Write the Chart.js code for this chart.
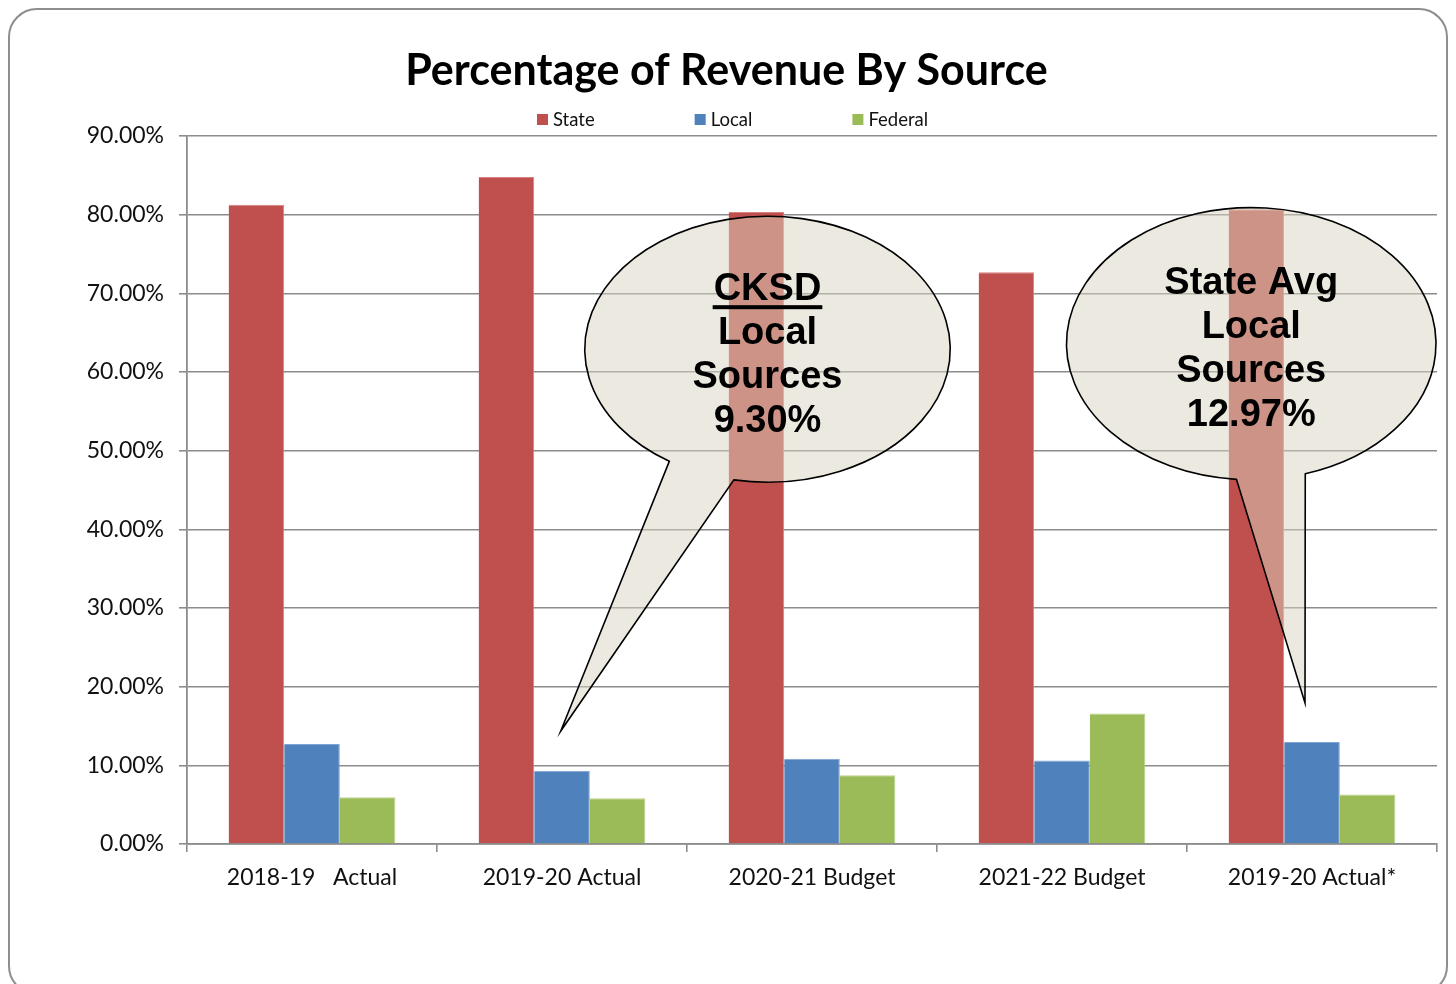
<!DOCTYPE html>
<html>
<head>
<meta charset="utf-8">
<script src="https://cdn.jsdelivr.net/npm/chart.js@4/dist/chart.umd.min.js"></script>
<style>
  html, body { margin: 0; padding: 0; background: #ffffff; }
  #wrap { width: 1456px; height: 984px; position: relative; }
</style>
</head>
<body>
<div id="wrap"><canvas id="chart" width="1456" height="984"></canvas></div>
<script>
// Revenue share by source (percent of total revenue)
const categories = ['2018-19   Actual', '2019-20 Actual', '2020-21 Budget', '2021-22 Budget', '2019-20 Actual*'];
const stateShare = [81.27, 84.8, 80.34, 72.67, 80.7];
const localShare = [12.71, 9.3, 10.85, 10.6, 12.97];
const federalShare = [5.93, 5.8, 8.73, 16.6, 6.3];
const seriesNames = ['State', 'Local', 'Federal'];
const seriesColors = ['#C0504D', '#4F81BD', '#9BBB59'];
const seriesEdges = ['#D8827F', '#7FA3D3', '#BDD38E'];

// Speech-bubble notes: centre and tail tip given in category index / percent units
const calloutLines = [
  ['CKSD', 'Local', 'Sources', '9.30%'],
  ['State Avg', 'Local', 'Sources', '12.97%']
];
const calloutUnderlineFirst = [true, false];
const calloutCenterIdx = [1.822, 3.757];
const calloutCenterVal = [62.9, 63.6];
const calloutRadiusIdx = [0.731, 0.739];
const calloutRadiusVal = [16.9, 17.3];
const calloutTipIdx = [0.995, 3.972];
const calloutTipVal = [14.36, 17.92];
const calloutTailFrom = [122.5, 94.6];  // degrees on the ellipse
const calloutTailTo = [100.6, 73.0];

const GRID = '#8c8c8c';
const LABEL_FONT = 'Lato, "Open Sans", sans-serif';

const frame = {
  id: 'frame',
  beforeDraw(chart) {
    const ctx = chart.ctx;
    ctx.save();
    ctx.fillStyle = '#ffffff';
    ctx.fillRect(0, 0, chart.width, chart.height);
    ctx.beginPath();
    ctx.roundRect(9, 9, 1438, 985, 28);
    ctx.strokeStyle = '#8e8e8e';
    ctx.lineWidth = 2;
    ctx.stroke();
    ctx.restore();
  }
};

// Legend row drawn under the title, built from the datasets
const legendRow = {
  id: 'legendRow',
  afterDraw(chart) {
    const ctx = chart.ctx;
    ctx.save();
    ctx.font = '18.5px ' + LABEL_FONT;
    ctx.textBaseline = 'middle';
    ctx.textAlign = 'left';
    let x = 537;
    const y = 119;
    chart.data.datasets.forEach(ds => {
      ctx.fillStyle = ds.backgroundColor;
      ctx.fillRect(x, y - 5, 11, 11);
      ctx.fillStyle = '#111';
      ctx.fillText(ds.label, x + 16, y + 1);
      x += 16 + ctx.measureText(ds.label).width + 100;
    });
    ctx.restore();
  }
};

const callouts = {
  id: 'callouts',
  afterDatasetsDraw(chart) {
    const ctx = chart.ctx;
    const xs = chart.scales.x, ys = chart.scales.y;
    const catW = xs.getPixelForValue(1) - xs.getPixelForValue(0);
    const perUnit = ys.getPixelForValue(0) - ys.getPixelForValue(1);
    const rad = d => d * Math.PI / 180;
    calloutLines.forEach((lines, i) => {
      const cx = xs.getPixelForValue(0) + calloutCenterIdx[i] * catW;
      const cy = ys.getPixelForValue(calloutCenterVal[i]);
      const rx = calloutRadiusIdx[i] * catW;
      const ry = calloutRadiusVal[i] * perUnit;
      const tx = xs.getPixelForValue(0) + calloutTipIdx[i] * catW;
      const ty = ys.getPixelForValue(calloutTipVal[i]);
      ctx.save();
      ctx.beginPath();
      ctx.ellipse(cx, cy, rx, ry, 0, rad(calloutTailFrom[i]), rad(calloutTailTo[i]), false);
      ctx.lineTo(tx, ty);
      ctx.closePath();
      ctx.fillStyle = 'rgba(217,213,193,0.5)';
      ctx.fill();
      ctx.strokeStyle = '#000';
      ctx.lineWidth = 1.6;
      ctx.lineJoin = 'miter';
      ctx.stroke();

      ctx.fillStyle = '#000';
      ctx.font = 'bold 38px "Liberation Sans", Arial, sans-serif';
      ctx.textAlign = 'center';
      ctx.textBaseline = 'middle';
      lines.forEach((t, k) => {
        const ly = cy - 60 + k * 44;
        ctx.fillText(t, cx, ly);
        if (k === 0 && calloutUnderlineFirst[i]) {
          const w = ctx.measureText(t).width;
          ctx.fillRect(cx - w / 2 - 1, ly + 16, w + 2, 4);
        }
      });
      ctx.restore();
    });
  }
};

const datasets = [stateShare, localShare, federalShare].map((vals, i) => ({
  label: seriesNames[i],
  data: vals,
  backgroundColor: seriesColors[i],
  borderColor: seriesEdges[i],
  borderWidth: { top: 1, right: 1, left: 0, bottom: 0 },
  barPercentage: 1.0,
  categoryPercentage: 0.667
}));

new Chart(document.getElementById('chart'), {
  type: 'bar',
  data: { labels: categories, datasets },
  options: {
    responsive: false,
    animation: false,
    devicePixelRatio: 1,
    layout: { padding: { left: 8, right: 11, top: 0, bottom: 0 } },
    plugins: {
      legend: { display: false },
      tooltip: { enabled: false },
      title: {
        display: true,
        text: 'Percentage of Revenue By Source',
        color: '#000',
        font: { family: LABEL_FONT, size: 43, weight: 'bold', lineHeight: 1.2 },
        padding: { top: 45, bottom: 39.4 }
      }
    },
    scales: {
      x: {
        grid: { display: true, drawOnChartArea: false, drawTicks: true, tickLength: 8, color: GRID, lineWidth: 1.6, offset: true },
        border: { display: true, color: GRID, width: 1.8 },
        ticks: { color: '#111', font: { family: LABEL_FONT, size: 23 }, padding: 12, maxRotation: 0, autoSkip: false },
        afterFit(s) { s.height = 140; }
      },
      y: {
        min: 0,
        max: 90,
        grid: { color: GRID, lineWidth: 1.6, drawTicks: true, tickLength: 8 },
        border: { display: true, color: GRID, width: 1.8 },
        ticks: {
          stepSize: 10,
          color: '#111',
          font: { family: LABEL_FONT, size: 23 },
          padding: 15,
          callback: v => v.toFixed(2) + '%'
        },
        afterFit(s) { s.width = 179; }
      },
      // blank margin on the right of the plot
      yRight: {
        position: 'right',
        min: 0,
        max: 90,
        grid: { display: false, drawOnChartArea: false },
        border: { display: false },
        ticks: { display: false },
        afterFit(s) { s.width = 8; }
      }
    }
  },
  plugins: [frame, legendRow, callouts]
});
</script>
</body>
</html>
